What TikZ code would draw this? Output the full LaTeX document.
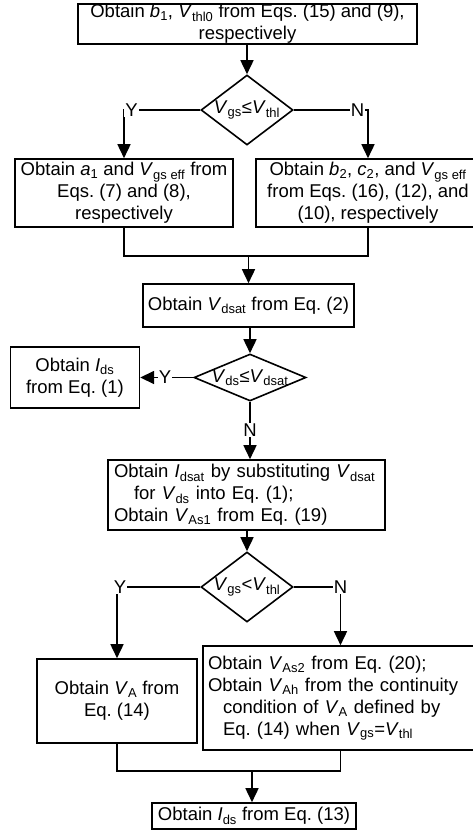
\documentclass[tikz,border=0pt]{standalone}
\usepackage{fontspec}
\setmainfont{Liberation Sans}
\usepackage{tikz}
\usetikzlibrary{positioning,shapes.geometric,arrows.meta}

\frenchspacing
\newcommand{\fs}{\fontsize{18.5pt}{22pt}\selectfont}
\newcommand{\vsub}[2]{\textit{#1}\textsubscript{#2}}
\newcommand{\dtext}[1]{\makebox[0pt]{#1}}

\tikzset{
  box/.style={draw, line width=1.6pt, align=center, inner xsep=2pt, inner ysep=0pt, font=\fs},
  lbox/.style={box, align=left, inner xsep=6pt},
  dec/.style={draw, diamond, line width=1.6pt, inner sep=0pt, font=\fs},
  arr/.style={-{Triangle[width=13pt,length=14pt]}, line width=1.6pt},
  lbl/.style={fill=white, inner sep=1pt, font=\fs},
  line/.style={line width=1.6pt}
}

\begin{document}
\begin{tikzpicture}[x=1pt, y=-1pt]
      \path[use as bounding box] (0,0) rectangle (472,830);
      \node[box, minimum width=339pt, minimum height=40pt] (b1) at (247.5,24)
        {Obtain \textit{b}\textsubscript{1}, \vsub{V}{thl0} from Eqs. (15) and (9),\\ respectively};
      \node[dec, minimum width=92pt, minimum height=70pt] (d1) at (247,110)
        {\dtext{\vsub{V}{gs}≤\vsub{V}{thl}}};
      \node[box, minimum width=218pt, minimum height=68pt] (b2) at (124,193)
        {Obtain \textit{a}\textsubscript{1} and \vsub{V}{gs eff} from\\ Eqs. (7) and (8),\\ respectively};
      \node[box, minimum width=224pt, minimum height=68pt] (b3) at (368,193)
        {Obtain \textit{b}\textsubscript{2}, \textit{c}\textsubscript{2}, and \vsub{V}{gs eff}\\ from Eqs. (16), (12), and\\ (10), respectively};
      \node[box, minimum width=211pt, minimum height=43pt] (b4) at (248.5,305.5)
        {Obtain \vsub{V}{dsat} from Eq. (2)};
      \node[dec, minimum width=112pt, minimum height=47pt] (d2) at (250,377.5)
        {\dtext{\vsub{V}{ds}≤\vsub{V}{dsat}}};
      \node[box, minimum width=129pt, minimum height=61pt, left=53pt of d2] (b5)
        {Obtain \vsub{I}{ds}\\ from Eq. (1)};
      \node[lbox, text width=265pt, minimum height=70pt] (b6) at (246.5,495)
        {Obtain \vsub{I}{dsat} by substituting \vsub{V}{dsat}\\
         \hspace*{20pt}for \vsub{V}{ds} into Eq. (1);\\
         Obtain \vsub{V}{As1} from Eq. (19)};
      \node[dec, minimum width=92pt, minimum height=70pt] (d3) at (247,587)
        {\dtext{\vsub{V}{gs}<\vsub{V}{thl}}};
      \node[box, minimum width=160pt, minimum height=84pt] (b7) at (117,701)
        {Obtain \vsub{V}{A} from\\ Eq. (14)};
      \node[lbox, inner xsep=5pt, text width=265pt, minimum height=104pt] (b8) at (340.5,698)
        {Obtain \vsub{V}{As2} from Eq. (20);\\
         Obtain \vsub{V}{Ah} from the continuity\\
         \hspace*{15pt}condition of \vsub{V}{A} defined by\\
         \hspace*{15pt}Eq. (14) when \vsub{V}{gs}=\vsub{V}{thl}};
      \node[box, minimum width=204pt, minimum height=26pt] (b9) at (254,816)
        {Obtain \vsub{I}{ds} from Eq. (13)};
      \coordinate (m1) at (248.5,256);
      \coordinate (m2) at (252,771);

      \draw[arr] (b1.south -| d1.north) -- (d1.north);
      \draw[arr] (d1.west) -| node[lbl, pos=0.45] {Y} (b2.north);
      \draw[arr] (d1.east) -| node[lbl, pos=0.43] {N} (b3.north);
      \draw[line] (b2.south) |- (m1) -| (b3.south);
      \draw[arr] (m1) -- (b4.north);
      \draw[arr] (b4.south) -- (b4.south -| d2.north) -- (d2.north);
      \draw[arr] (d2.west) -- node[lbl, pos=0.53] {Y} (b5.east);
      \draw[arr] (d2.south) -- node[lbl, pos=0.49] {N} (d2.south |- b6.north);
      \draw[arr] (b6.south -| d3.north) -- (d3.north);
      \draw[arr] (d3.west) -| node[lbl, pos=0.5, xshift=3pt] {Y} (b7.north);
      \draw[arr] (d3.east) -| node[lbl, pos=0.5] {N} (b8.north);
      \draw[line] (b7.south) |- (m2) -| (b8.south);
      \draw[arr] (m2) -- (m2 |- b9.north);
\end{tikzpicture}
\end{document}
